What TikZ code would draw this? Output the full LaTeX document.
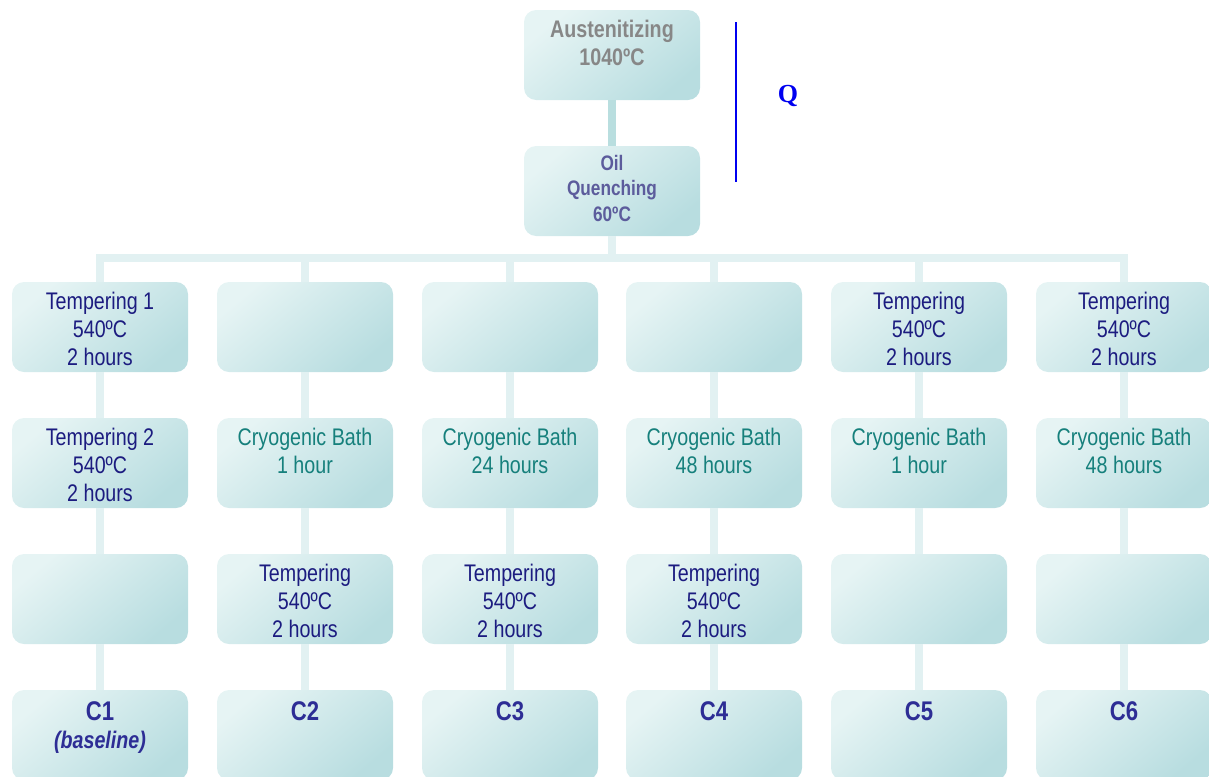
\documentclass[tikz,border=0pt]{standalone}
\usepackage{fontspec}
\setmainfont[FakeStretch=0.82]{Liberation Sans}
\newfontfamily\qfont{Liberation Serif}
\usetikzlibrary{positioning}

\definecolor{boxlo}{HTML}{E6F4F4}
\definecolor{boxhi}{HTML}{B8DDE0}
\definecolor{linedark}{HTML}{B9DEDF}
\definecolor{linelight}{HTML}{E2F1F2}
\definecolor{graytxt}{HTML}{878787}
\definecolor{oiltxt}{HTML}{5C5C9C}
\definecolor{tempertxt}{HTML}{1C1C80}
\definecolor{cryotxt}{HTML}{16807C}
\definecolor{casetxt}{HTML}{2D2D95}
\definecolor{qblue}{HTML}{0000F0}

\tikzset{
  box/.style={rounded corners=6pt, minimum width=88pt, minimum height=45pt, inner sep=0pt,
    top color=boxlo, middle color=boxlo!80!boxhi, bottom color=boxhi, shading angle=40},
  txt/.style={align=center, inner xsep=0pt, font=\fontsize{12}{14}\selectfont},
  grayt/.style={txt, inner ysep=5pt, text=graytxt, font=\fontsize{12}{14}\selectfont\bfseries},
  oilt/.style={txt, inner ysep=4.5pt, text=oiltxt, font=\fontsize{10.5}{12.75}\selectfont\bfseries},
  tempt/.style={txt, inner ysep=4.9pt, text=tempertxt},
  cryot/.style={txt, inner ysep=4.9pt, text=cryotxt},
  caset/.style={txt, inner ysep=6pt, text=casetxt, font=\fontsize{13.5}{14}\selectfont\bfseries},
  link/.style={line width=4pt, draw=linelight},
}

\begin{document}
\begin{tikzpicture}[x=0.5pt, y=-0.5pt]
\useasboundingbox (0,0) rectangle (1209,776);
\clip (0,0) rectangle (1209,776);

% austenitizing and quenching
\node[box] (aus) at (612,55) {};
\node[grayt, below=0pt of aus.north] (aust) {Austenitizing\\1040ºC};
\node[box] (oil) at (612,191) {};
\node[oilt, below=0pt of oil.north] (oilt) {Oil\\Quenching\\60ºC};

% first row
\node[box] (a1) at (100,327) {};
\node[box] (a2) at (305,327) {};
\node[box] (a3) at (510,327) {};
\node[box] (a4) at (714,327) {};
\node[box] (a5) at (919,327) {};
\node[box] (a6) at (1124,327) {};
\node[tempt, below=0pt of a1.north] (a1t) {Tempering 1\\540ºC\\2 hours};
\node[tempt, below=0pt of a5.north] (a5t) {Tempering\\540ºC\\2 hours};
\node[tempt, below=0pt of a6.north] (a6t) {Tempering\\540ºC\\2 hours};

% second row
\node[box] (b1) at (100,463) {};
\node[box] (b2) at (305,463) {};
\node[box] (b3) at (510,463) {};
\node[box] (b4) at (714,463) {};
\node[box] (b5) at (919,463) {};
\node[box] (b6) at (1124,463) {};
\node[tempt, below=0pt of b1.north] (b1t) {Tempering 2\\540ºC\\2 hours};
\node[cryot, below=0pt of b2.north] (b2t) {Cryogenic Bath\\1 hour};
\node[cryot, below=0pt of b3.north] (b3t) {Cryogenic Bath\\24 hours};
\node[cryot, below=0pt of b4.north] (b4t) {Cryogenic Bath\\48 hours};
\node[cryot, below=0pt of b5.north] (b5t) {Cryogenic Bath\\1 hour};
\node[cryot, below=0pt of b6.north] (b6t) {Cryogenic Bath\\48 hours};

% third row
\node[box] (c1) at (100,599) {};
\node[box] (c2) at (305,599) {};
\node[box] (c3) at (510,599) {};
\node[box] (c4) at (714,599) {};
\node[box] (c5) at (919,599) {};
\node[box] (c6) at (1124,599) {};
\node[tempt, below=0pt of c2.north] (c2t) {Tempering\\540ºC\\2 hours};
\node[tempt, below=0pt of c3.north] (c3t) {Tempering\\540ºC\\2 hours};
\node[tempt, below=0pt of c4.north] (c4t) {Tempering\\540ºC\\2 hours};

% cases
\node[box] (d1) at (100,735) {};
\node[box] (d2) at (305,735) {};
\node[box] (d3) at (510,735) {};
\node[box] (d4) at (714,735) {};
\node[box] (d5) at (919,735) {};
\node[box] (d6) at (1124,735) {};
\node[caset, below=0pt of d1.north] (d1t) {C1\\\fontsize{12}{14}\selectfont\itshape (baseline)};
\node[caset, below=0pt of d2.north] (d2t) {C2};
\node[caset, below=0pt of d3.north] (d3t) {C3};
\node[caset, below=0pt of d4.north] (d4t) {C4};
\node[caset, below=0pt of d5.north] (d5t) {C5};
\node[caset, below=0pt of d6.north] (d6t) {C6};

% connectors
\coordinate (bus) at (612,258);
\draw[line width=4pt, linedark] (aus) -- (oil);
\draw[link] (oil) -- (bus);
\draw[link] (a1.north) |- (a6.north |- bus) -- (a6.north);
\foreach \n in {a2,a3,a4,a5}
  \draw[link] (\n.north) -- (\n.north |- bus);
\foreach \c in {1,...,6}
  \draw[link] (a\c) -- (b\c) (b\c) -- (c\c) (c\c) -- (d\c);

% Q marker
\coordinate (qtop) at (736,22);
\coordinate (qbot) at (736,182);
\draw[qblue, line width=1pt] (qtop) -- (qbot);
\node[text=qblue, font=\qfont\fontsize{13}{15}\selectfont\bfseries] (q) at (788,96) {Q};

\end{tikzpicture}
\end{document}
